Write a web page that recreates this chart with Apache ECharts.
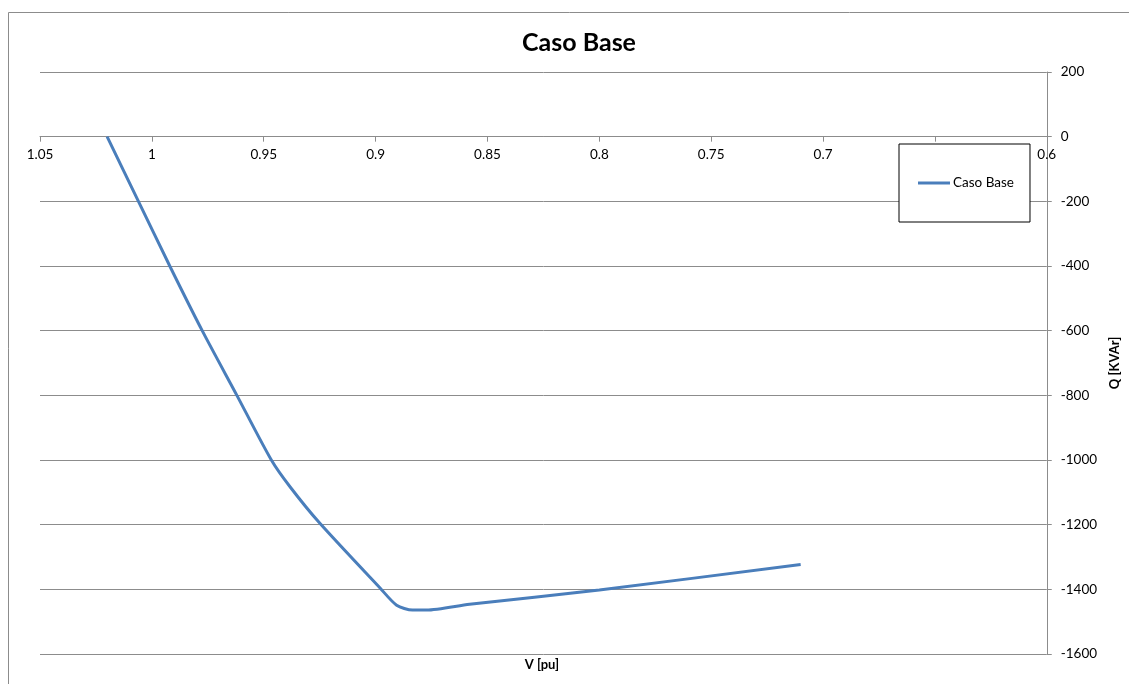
<!DOCTYPE html>
<html>
<head>
<meta charset="utf-8">
<title>Caso Base</title>
<script src="https://cdn.jsdelivr.net/npm/echarts@6/dist/echarts.min.js"></script>
<style>
  html, body { margin: 0; padding: 0; background: #ffffff; }
  #chart { width: 1129px; height: 684px; }
</style>
</head>
<body>
<div id="chart"></div>
<script>
// Voltage (pu) and reactive power (kVAr) of the base case
const seriesName = 'Caso Base';
const voltage = [1.020, 1.006, 0.992, 0.9775, 0.962, 0.9466, 0.938, 0.925, 0.898, 0.8906, 0.8835, 0.8772, 0.858, 0.80, 0.71];
const reactive = [0, -200, -400, -600, -800, -1000, -1085, -1195, -1396, -1449, -1464, -1464, -1446, -1402, -1323];

const FONT = 'Lato, "Open Sans", sans-serif';
const GRID_GRAY = '#8c8c8c';

// plot box
const GRID = { left: 40, right: 81, top: 72, bottom: 30 };
const Y_MIN = -1600, Y_MAX = 200;
const plotH = 684 - GRID.top - GRID.bottom;
// the V axis crosses the Q axis at Q = 0
const zeroFromBottom = plotH * (0 - Y_MIN) / (Y_MAX - Y_MIN);

const chart = echarts.init(document.getElementById('chart'));

chart.setOption({
  backgroundColor: '#ffffff',
  animation: false,
  title: {
    text: 'Caso Base',
    left: 574,
    textAlign: 'center',
    top: 25,
    textStyle: { fontFamily: FONT, fontSize: 25, fontWeight: 'bold', color: '#000000' }
  },
  legend: {
    data: [seriesName],
    left: 899,
    top: 144,
    orient: 'vertical',
    icon: 'rect',
    itemWidth: 32,
    itemHeight: 3,
    itemGap: 0,
    padding: [32, 16, 32, 19],
    backgroundColor: '#ffffff',
    borderColor: '#000000',
    borderWidth: 1,
    borderRadius: 0,
    textStyle: { fontFamily: FONT, fontSize: 13.5, color: '#000000', padding: [0, 0, 0, -2] }
  },
  grid: Object.assign({ containLabel: false }, GRID),
  xAxis: {
    type: 'value',
    inverse: true,
    position: 'bottom',
    offset: -zeroFromBottom,
    min: 0.6,
    max: 1.05,
    interval: 0.05,
    axisLine: { show: true, onZero: false, lineStyle: { color: GRID_GRAY, width: 1 } },
    axisTick: { show: true, inside: false, length: 5, lineStyle: { color: GRID_GRAY } },
    axisLabel: {
      margin: 11,
      fontFamily: FONT,
      fontSize: 13.5,
      color: '#000000',
      formatter: v => String(+v.toFixed(2))
    },
    splitLine: { show: false }
  },
  yAxis: {
    type: 'value',
    position: 'right',
    min: Y_MIN,
    max: Y_MAX,
    interval: 200,
    name: 'Q [KVAr]',
    nameLocation: 'middle',
    nameRotate: 90,
    nameGap: 56,
    nameTextStyle: { fontFamily: FONT, fontSize: 13, fontWeight: 'bold', color: '#000000' },
    axisLine: { show: true, lineStyle: { color: GRID_GRAY, width: 1 } },
    axisTick: { show: true, inside: false, length: 5, lineStyle: { color: GRID_GRAY } },
    axisLabel: {
      margin: 14,
      fontFamily: FONT,
      fontSize: 13.5,
      color: '#000000',
      formatter: v => String(v)
    },
    splitLine: { show: true, lineStyle: { color: GRID_GRAY, width: 1 } }
  },
  graphic: [
    {
      type: 'rect',
      shape: { x: 8.5, y: 12.5, width: 1400, height: 1000 },
      style: { fill: 'none', stroke: '#8c8c8c', lineWidth: 1 },
      silent: true,
      z: -10
    },
    {
      type: 'text',
      x: 542,
      y: 665,
      style: {
        text: 'V [pu]',
        font: 'bold 13px ' + FONT,
        fill: '#000000',
        align: 'center',
        verticalAlign: 'middle'
      }
    }
  ],
  series: [{
    name: seriesName,
    type: 'line',
    data: voltage.map((v, i) => [v, reactive[i]]),
    symbol: 'none',
    smooth: 0.25,
    lineStyle: { color: '#4a7ebb', width: 3 },
    itemStyle: { color: '#4a7ebb' }
  }]
});
</script>
</body>
</html>
